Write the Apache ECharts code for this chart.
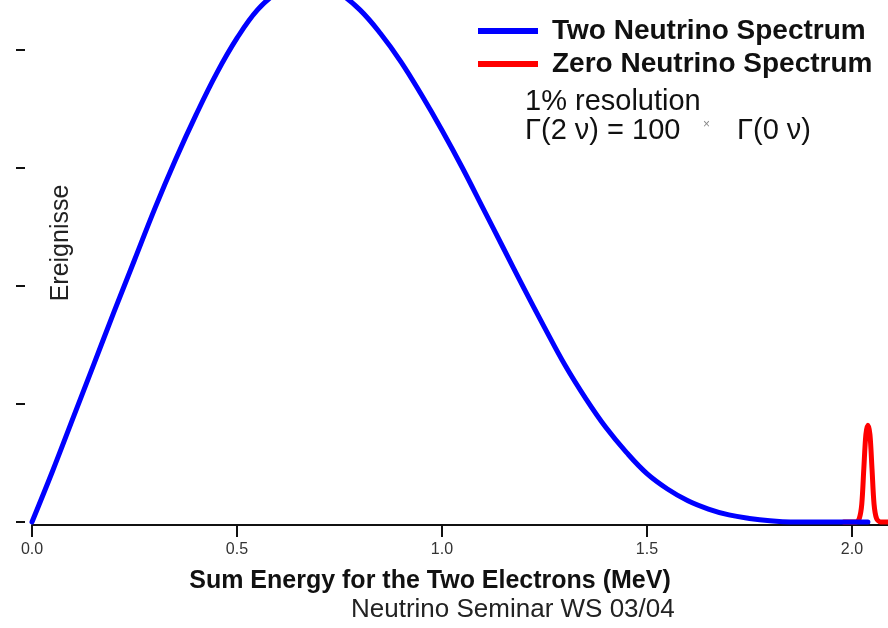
<!DOCTYPE html>
<html>
<head>
<meta charset="utf-8">
<script src="https://cdn.jsdelivr.net/npm/echarts@6/dist/echarts.min.js"></script>
<style>
  html, body { margin: 0; padding: 0; background: #ffffff; }
  #chart { width: 888px; height: 628px; }
</style>
</head>
<body>
<div id="chart"></div>
<script>
// Summed kinetic energy of the two electrons (MeV) and event counts (arb. units)
const twoNuEnergy = [0.00, 0.05, 0.10, 0.15, 0.20, 0.25, 0.30, 0.35, 0.40, 0.45,
  0.50, 0.55, 0.60, 0.65, 0.70, 0.75, 0.80, 0.85, 0.90, 0.95,
  1.00, 1.05, 1.10, 1.15, 1.20, 1.25, 1.30, 1.35, 1.40, 1.45,
  1.50, 1.55, 1.60, 1.65, 1.70, 1.75, 1.80, 1.85, 1.90, 1.95, 2.00, 2.039];
const twoNuCounts = [0.00, 0.43, 0.88, 1.33, 1.78, 2.22, 2.66, 3.07, 3.45, 3.80,
  4.10, 4.34, 4.49, 4.56, 4.55, 4.48, 4.34, 4.14, 3.90, 3.62,
  3.32, 3.00, 2.66, 2.32, 1.98, 1.65, 1.33, 1.05, 0.80, 0.59,
  0.41, 0.28, 0.18, 0.11, 0.06, 0.03, 0.01, 0.00, 0.00, 0.00, 0.00, 0.00];

// Zero-neutrino line at Q = 2.039 MeV, smeared with 1% resolution
const zeroNuEnergy = [1.980, 2.010, 2.018, 2.024, 2.029, 2.034, 2.039, 2.044, 2.049, 2.054, 2.060, 2.070, 2.110];
const zeroNuCounts = [0.00, 0.00, 0.03, 0.15, 0.45, 0.74, 0.82, 0.74, 0.45, 0.15, 0.03, 0.00, 0.00];

const energyTicks = [0, 0.5, 1.0, 1.5, 2.0];
const countTicks = [0, 1, 2, 3, 4];

const seriesNames = ['Two Neutrino Spectrum', 'Zero Neutrino Spectrum'];

const pairs = (xs, ys) => xs.map((x, i) => [x, ys[i]]);

const chart = echarts.init(document.getElementById('chart'), null, { renderer: 'canvas' });

chart.setOption({
  backgroundColor: '#ffffff',
  animation: false,
  title: {
    text: 'Neutrino Seminar WS 03/04',
    left: 351,
    top: 597,
    padding: 0,
    textStyle: { fontFamily: 'Liberation Sans', fontWeight: 'normal', fontSize: 26, color: '#222222' }
  },
  legend: {
    orient: 'vertical',
    left: 478,
    top: 17,
    padding: 0,
    itemWidth: 60,
    itemHeight: 6,
    itemGap: 5,
    icon: 'rect',
    data: seriesNames,
    textStyle: {
      fontFamily: 'Liberation Sans', fontWeight: 'bold', fontSize: 28, color: '#111111',
      padding: [0, 0, 0, 9]
    }
  },
  // plot runs to the right edge of the canvas
  grid: { left: 32, right: 0, top: 50, bottom: 106, containLabel: false },
  xAxis: {
    type: 'value',
    min: 0,
    max: 2.088,
    interval: 0.5,
    offset: 3,
    splitLine: { show: false },
    axisLine: { show: true, onZero: false, lineStyle: { color: '#111111', width: 2 } },
    axisTick: { show: true, inside: false, length: 12, customValues: energyTicks, lineStyle: { color: '#111111', width: 2 } },
    axisLabel: {
      customValues: energyTicks,
      margin: 17,
      formatter: v => v.toFixed(1),
      fontFamily: 'Liberation Sans', fontSize: 16, color: '#333333'
    },
    name: 'Sum Energy for the Two Electrons (MeV)',
    nameLocation: 'middle',
    nameGap: 44,
    nameTextStyle: {
      fontFamily: 'Liberation Sans', fontWeight: 'bold', fontSize: 25, color: '#111111',
      padding: [0, 60, 0, 0]
    }
  },
  yAxis: {
    type: 'value',
    position: 'left',
    min: 0,
    max: 4,
    interval: 1,
    offset: 7,
    splitLine: { show: false },
    axisLine: { show: true, onZero: false, lineStyle: { color: '#ffffff', opacity: 0, width: 0 } },
    axisTick: { show: true, length: 9, customValues: countTicks, lineStyle: { color: '#111111', width: 2 } },
    axisLabel: { show: false },
    name: 'Ereignisse',
    nameLocation: 'middle',
    nameRotate: 90,
    nameGap: -49,
    nameTextStyle: {
      fontFamily: 'Liberation Sans', fontWeight: 'normal', fontSize: 25, color: '#222222',
      padding: [0, 0, 0, 86]
    }
  },
  graphic: [
    { type: 'text', left: 525, top: 87,
      style: { text: '1% resolution', font: '29px "Liberation Sans"', fill: '#111111' } },
    { type: 'text', left: 525, top: 116,
      style: { text: 'Γ(2 ν) = 100', font: '29px "Liberation Sans"', fill: '#111111' } },
    { type: 'text', left: 703, top: 119,
      style: { text: '×', font: '12px "Liberation Sans"', fill: '#888888' } },
    { type: 'text', left: 737, top: 116,
      style: { text: 'Γ(0 ν)', font: '29px "Liberation Sans"', fill: '#111111' } }
  ],
  series: [
    {
      name: seriesNames[1],
      type: 'line',
      data: pairs(zeroNuEnergy, zeroNuCounts),
      showSymbol: false,
      smooth: 0.3,
      clip: false,
      color: '#ff0000',
      lineStyle: { color: '#ff0000', width: 5, cap: 'round', join: 'round' },
      z: 2
    },
    {
      name: seriesNames[0],
      type: 'line',
      data: pairs(twoNuEnergy, twoNuCounts),
      showSymbol: false,
      smooth: 0.4,
      clip: false,
      color: '#0000ff',
      lineStyle: { color: '#0000ff', width: 5, cap: 'round', join: 'round' },
      z: 3
    }
  ]
});
</script>
</body>
</html>
